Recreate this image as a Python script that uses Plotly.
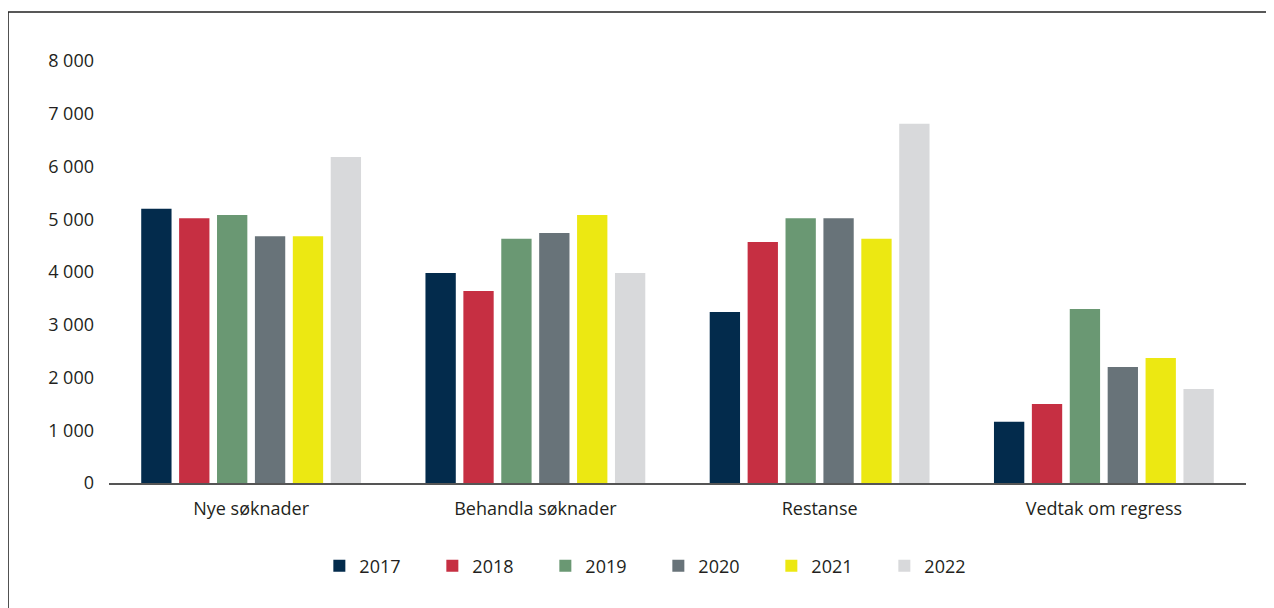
import plotly.graph_objects as go

kategorier = ["Nye søknader", "Behandla søknader", "Restanse", "Vedtak om regress"]
aar = ["2017", "2018", "2019", "2020", "2021", "2022"]

v2017 = [5200, 3980, 3240, 1160]
v2018 = [5020, 3640, 4570, 1500]
v2019 = [5080, 4630, 5020, 3300]
v2020 = [4680, 4740, 5020, 2200]
v2021 = [4680, 5080, 4630, 2370]
v2022 = [6180, 3980, 6810, 1780]

verdiar = [v2017, v2018, v2019, v2020, v2021, v2022]
fargar = ["#032b4c", "#c62f42", "#6a9873", "#687379", "#ece812", "#d8d9db"]

y_tick_verdiar = [0, 1000, 2000, 3000, 4000, 5000, 6000, 7000, 8000]
y_tick_tekst = ["0", "1 000", "2 000", "3 000", "4 000", "5 000", "6 000", "7 000", "8 000"]

fig = go.Figure()
for namn, v, farge in zip(aar, verdiar, fargar):
    fig.add_trace(go.Bar(x=kategorier, y=v, name=namn, marker=dict(color=farge, line=dict(width=0))))

# sida har 8 px marg, så figuren er 8 px mindre og flytta opp/til venstre
fig.update_layout(
    width=1266, height=600,
    margin=dict(l=101, r=28, t=53, b=125),
    paper_bgcolor="white", plot_bgcolor="white",
    font=dict(family="Open Sans", size=18, color="#231f20"),
    barmode="group", bargap=0.2, bargroupgap=0.2,
    showlegend=True,
    legend=dict(
        orientation="h",
        x=0.185, xanchor="left",
        y=-0.197, yanchor="middle",
        font=dict(size=18),
        entrywidth=68,
        traceorder="normal",
    ),
)
fig.update_xaxes(
    showgrid=False, showline=True, linecolor="#555555", linewidth=1.5,
    ticks="", ticklabelstandoff=9, tickfont=dict(size=18),
)
fig.update_yaxes(
    range=[0, 8000], tickvals=y_tick_verdiar, ticktext=y_tick_tekst,
    showgrid=False, zeroline=False, showline=False,
    ticks="", ticklabelstandoff=14, tickfont=dict(size=18),
)

# ramme rundt figuren (høgre og nedre kant fell utanfor biletet)
fig.add_shape(
    type="rect", xref="paper", yref="paper",
    x0=-0.0888, x1=1.05, y0=-0.35, y1=1.1161,
    line=dict(color="#222222", width=1.5), layer="below",
)

fig.write_html("out.html")
